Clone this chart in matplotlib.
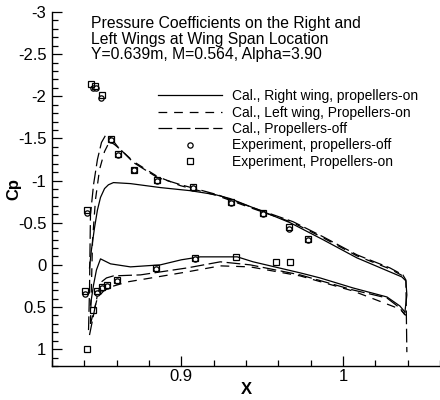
import matplotlib
matplotlib.use('Agg')
from matplotlib import pyplot as plt
from matplotlib.ticker import MultipleLocator, FuncFormatter

plt.rcParams['font.family'] = ['Liberation Sans', 'DejaVu Sans']
plt.rcParams['axes.unicode_minus'] = False

# Cal., right wing, propellers-on (solid)
right_up_x = [0.8432, 0.8444, 0.8463, 0.8481, 0.8500, 0.8525, 0.8549, 0.8580, 0.8685,
              0.8870, 0.9056, 0.9210, 0.9302, 0.9506, 0.9673, 0.9877, 1.0086, 1.0290,
              1.0364, 1.0389, 1.0395, 1.0383]
right_up_cp = [0.036, -0.18, -0.44, -0.65, -0.80, -0.905, -0.95, -0.976, -0.964,
               -0.917, -0.88, -0.833, -0.786, -0.631, -0.50, -0.298, -0.083, 0.083,
               0.143, 0.19, 0.357, 0.56]
right_lo_x = [0.8438, 0.8457, 0.8475, 0.8500, 0.8562, 0.8685, 0.8870, 0.9000, 0.9117,
              0.9346, 0.9444, 0.9735, 0.9858, 1.0062, 1.0272, 1.0352, 1.0383]
right_lo_cp = [0.476, 0.238, 0.06, -0.071, -0.012, 0.024, 0.0, -0.06, -0.095,
               -0.095, -0.036, 0.095, 0.155, 0.274, 0.381, 0.488, 0.56]

# Cal., left wing, propellers-on (short dash)
left_up_x = [0.8438, 0.8451, 0.8469, 0.8494, 0.8525, 0.8556, 0.8586, 0.8623, 0.8704,
             0.8852, 0.8994, 0.9222, 0.9426, 0.9691, 0.9877, 1.0086, 1.0290, 1.0370,
             1.0389]
left_up_cp = [0.70, -0.298, -0.774, -1.131, -1.345, -1.464, -1.429, -1.369, -1.226,
              -1.048, -0.940, -0.821, -0.679, -0.50, -0.321, -0.107, 0.048, 0.131,
              0.19]
left_lo_x = [0.8438, 0.8457, 0.8481, 0.8519, 0.8562, 0.8667, 0.8852, 0.9037, 0.9241,
             0.9426, 0.9735, 1.0062, 1.0352, 1.0389]
left_lo_cp = [0.70, 0.56, 0.393, 0.31, 0.262, 0.202, 0.143, 0.083, 0.012,
              0.024, 0.131, 0.31, 0.524, 0.60]

# Cal., propellers-off (long dash)
off_up_x = [0.8426, 0.8432, 0.8435, 0.8438, 0.8457, 0.8481, 0.8506, 0.8531, 0.8562,
            0.8605, 0.8704, 0.8852, 0.8994, 0.9222, 0.9426, 0.9691, 0.9877, 1.0086,
            1.0290, 1.0370, 1.0389, 1.0395]
off_up_cp = [0.774, 0.298, -0.179, -0.595, -0.952, -1.25, -1.452, -1.536, -1.512,
             -1.405, -1.214, -1.036, -0.952, -0.833, -0.690, -0.512, -0.333, -0.119,
             0.036, 0.119, 0.179, 1.036]
off_lo_x = [0.8432, 0.8457, 0.8481, 0.8506, 0.8537, 0.8580, 0.8747, 0.9037, 0.9241,
            0.9426, 0.9735, 1.0062, 1.0272, 1.0352, 1.0383]
off_lo_cp = [0.833, 0.595, 0.357, 0.202, 0.155, 0.131, 0.119, 0.036, -0.036,
             0.0, 0.119, 0.298, 0.393, 0.512, 0.595]

# Experiment, propellers-off (circles)
exp_off_x = [0.8451, 0.8475, 0.8500, 0.8414, 0.8562, 0.8611, 0.8710, 0.8852, 0.9074,
             0.9309, 0.9506, 0.9667, 0.9784,
             0.8407, 0.8481, 0.8512, 0.8543, 0.8605, 0.8846, 0.9086]
exp_off_cp = [-2.095, -2.10, -1.975, -0.61, -1.48, -1.30, -1.12, -1.00, -0.91,
              -0.73, -0.60, -0.43, -0.29,
              0.345, 0.33, 0.27, 0.25, 0.19, 0.045, -0.07]

# Experiment, propellers-on (squares)
exp_on_x = [0.8444, 0.8469, 0.8512, 0.8414, 0.8562, 0.8611, 0.8710, 0.8852, 0.9074,
            0.9309, 0.9506, 0.9667, 0.9784,
            0.8414, 0.8407, 0.8451, 0.8481, 0.8512, 0.8543, 0.8605, 0.8846, 0.9086,
            0.9340, 0.9586, 0.9673]
exp_on_cp = [-2.14, -2.12, -2.01, -0.655, -1.49, -1.32, -1.13, -1.01, -0.92,
             -0.75, -0.61, -0.45, -0.31,
             1.0, 0.31, 0.536, 0.31, 0.262, 0.238, 0.179, 0.036, -0.083,
             -0.095, -0.036, -0.036]

labels = ['Cal., Right wing, propellers-on',
          'Cal., Left wing, Propellers-on',
          'Cal., Propellers-off',
          'Experiment, propellers-off',
          'Experiment, Propellers-on']
title = ('Pressure Coefficients on the Right and\n'
         'Left Wings at Wing Span Location\n'
         'Y=0.639m, M=0.564, Alpha=3.90')


def main():
    fig = plt.figure(figsize=(4.4, 4.0), dpi=100)
    ax = fig.add_axes([52 / 440, 34 / 400, 388 / 440, 354 / 400])
    lw = 0.9
    short = (7, 5.5)
    long_ = (11, 3.6)

    h1, = ax.plot(right_up_x, right_up_cp, color='black', lw=lw)
    ax.plot(right_lo_x, right_lo_cp, color='black', lw=lw)
    h2, = ax.plot(left_up_x, left_up_cp, color='black', lw=lw, dashes=short)
    ax.plot(left_lo_x, left_lo_cp, color='black', lw=lw, dashes=short)
    h3, = ax.plot(off_up_x, off_up_cp, color='black', lw=lw, dashes=long_)
    ax.plot(off_lo_x, off_lo_cp, color='black', lw=lw, dashes=long_)
    h4, = ax.plot(exp_off_x, exp_off_cp, ls='none', marker='o', ms=3.8,
                  mfc='white', mec='black', mew=0.9)
    h5, = ax.plot(exp_on_x, exp_on_cp, ls='none', marker='s', ms=4.6,
                  mfc='none', mec='black', mew=0.9)

    ax.set_xlim(0.82, 1.06)
    ax.set_ylim(1.2, -3.0)
    ax.xaxis.set_major_locator(MultipleLocator(0.1))
    ax.xaxis.set_minor_locator(MultipleLocator(0.02))
    ax.yaxis.set_major_locator(MultipleLocator(0.5))
    ax.yaxis.set_minor_locator(MultipleLocator(0.1))
    fmt = FuncFormatter(lambda v, p: '{:g}'.format(round(v, 3)))
    ax.xaxis.set_major_formatter(fmt)
    ax.yaxis.set_major_formatter(fmt)
    for s in ['top', 'right']:
        ax.spines[s].set_visible(False)
    for s in ['left', 'bottom']:
        ax.spines[s].set_linewidth(1.0)
    ax.tick_params(which='both', direction='in', labelsize=12, width=0.9)
    ax.tick_params(which='major', length=7)
    ax.tick_params(which='minor', length=4)
    ax.tick_params(axis='y', pad=4)
    ax.tick_params(axis='x', pad=2)
    ax.set_xlabel('X', fontsize=12, fontweight='bold')
    ax.set_ylabel('Cp', fontsize=12, fontweight='bold')
    ax.xaxis.set_label_coords(0.5, -0.045)
    ax.yaxis.set_label_coords(-0.08, 0.5)

    fig.text(91 / 440, 1 - 16 / 400, title, fontsize=11.3, va='top', ha='left',
             linespacing=1.05)

    ax.legend([h1, h2, h3, h4, h5], labels, loc='upper left',
              bbox_to_anchor=(158 / 440, 1 - 89 / 400), bbox_transform=fig.transFigure,
              frameon=False, borderpad=0, borderaxespad=0, fontsize=10,
              handlelength=4.6, handletextpad=0.7, labelspacing=0.18, numpoints=1)

    fig.savefig('out.png', dpi=100)


if __name__ == '__main__':
    main()
